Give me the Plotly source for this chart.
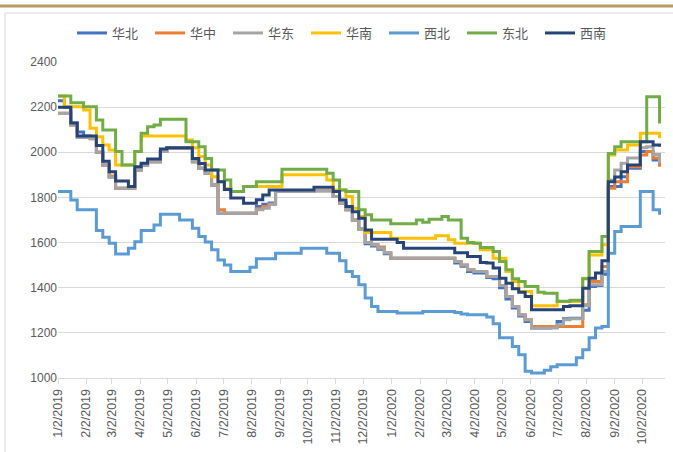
import pandas as pd
import plotly.graph_objects as go

# ---------------- data ----------------
dates = pd.date_range("2019-01-02", periods=95, freq="7D")

huabei = [2228, 2200, 2130, 2090, 2072, 2065, 2000, 1944, 1890, 1841,
          1841, 1841, 1922, 1944, 1958, 1958, 2003, 2018, 2018, 2018,
          2018, 1958, 1929, 1907, 1855, 1730, 1730, 1730, 1730, 1730,
          1730, 1760, 1770, 1775, 1826, 1826, 1826, 1826, 1826, 1826,
          1830, 1830, 1830, 1804, 1774, 1745, 1700, 1660, 1595, 1585,
          1570, 1550, 1531, 1531, 1531, 1531, 1531, 1531, 1531, 1531,
          1531, 1531, 1510, 1495, 1472, 1465, 1465, 1445, 1440, 1400,
          1350, 1310, 1275, 1250, 1221, 1221, 1221, 1225, 1250, 1262,
          1265, 1265, 1300, 1405, 1410, 1460, 1848, 1848, 1892, 1929,
          1929, 2003, 2003, 1966, 1950]

huazhong = [2173, 2173, 2120, 2065, 2065, 2060, 2000, 1944, 1895, 1841,
            1841, 1841, 1922, 1944, 1958, 1958, 2003, 2018, 2018, 2018,
            2018, 1958, 1929, 1907, 1855, 1745, 1730, 1730, 1730, 1730,
            1730, 1750, 1760, 1770, 1826, 1826, 1826, 1826, 1826, 1826,
            1830, 1830, 1830, 1804, 1774, 1745, 1700, 1660, 1600, 1590,
            1580, 1555, 1531, 1531, 1531, 1531, 1531, 1531, 1531, 1531,
            1531, 1531, 1516, 1501, 1480, 1472, 1472, 1450, 1450, 1410,
            1361, 1317, 1280, 1258, 1228, 1228, 1228, 1228, 1228, 1228,
            1228, 1228, 1325, 1427, 1427, 1494, 1841, 1870, 1870, 1936,
            1936, 1988, 2003, 1975, 1936]

huadong = [2173, 2173, 2120, 2065, 2065, 2060, 2000, 1944, 1890, 1841,
           1841, 1841, 1922, 1944, 1958, 1958, 2003, 2018, 2018, 2018,
           2018, 1958, 1929, 1907, 1855, 1730, 1730, 1730, 1730, 1730,
           1730, 1745, 1752, 1770, 1826, 1826, 1826, 1826, 1826, 1826,
           1830, 1830, 1830, 1804, 1774, 1745, 1700, 1660, 1600, 1590,
           1575, 1555, 1531, 1531, 1531, 1531, 1531, 1531, 1531, 1531,
           1531, 1531, 1516, 1501, 1480, 1472, 1472, 1450, 1450, 1410,
           1361, 1317, 1280, 1258, 1221, 1221, 1221, 1221, 1236, 1258,
           1262, 1262, 1320, 1413, 1413, 1472, 1877, 1922, 1951, 1975,
           1975, 2020, 2025, 1990, 1951]

huanan = [2249, 2202, 2202, 2202, 2187, 2106, 2069, 2032, 2010, 1944,
          1944, 1944, 2003, 2072, 2072, 2072, 2072, 2072, 2072, 2072,
          2054, 2020, 1981, 1944, 1892, 1870, 1840, 1826, 1826, 1848,
          1848, 1848, 1848, 1848, 1848, 1900, 1900, 1900, 1900, 1900,
          1900, 1900, 1877, 1833, 1833, 1804, 1752, 1715, 1645, 1645,
          1645, 1645, 1619, 1619, 1619, 1619, 1619, 1619, 1619, 1630,
          1630, 1612, 1597, 1597, 1597, 1597, 1568, 1568, 1531, 1531,
          1472, 1427, 1383, 1383, 1320, 1320, 1320, 1320, 1339, 1339,
          1339, 1339, 1442, 1545, 1545, 1590, 1988, 2010, 2010, 2032,
          2032, 2084, 2084, 2084, 2062]

xibei = [1826, 1826, 1789, 1745, 1745, 1745, 1653, 1624, 1597, 1549,
         1549, 1575, 1604, 1653, 1653, 1678, 1726, 1726, 1726, 1700,
         1700, 1664, 1627, 1602, 1568, 1523, 1501, 1472, 1472, 1472,
         1491, 1528, 1528, 1528, 1553, 1553, 1553, 1553, 1575, 1575,
         1575, 1575, 1553, 1553, 1520, 1472, 1450, 1413, 1354, 1317,
         1295, 1295, 1295, 1288, 1288, 1288, 1288, 1295, 1295, 1295,
         1295, 1295, 1290, 1283, 1280, 1280, 1280, 1270, 1240, 1178,
         1178, 1140, 1103, 1030, 1022, 1022, 1034, 1050, 1059, 1059,
         1059, 1090, 1125, 1178, 1221, 1228, 1553, 1649, 1671, 1671,
         1671, 1826, 1826, 1745, 1723]

dongbei = [2249, 2249, 2220, 2220, 2202, 2202, 2143, 2099, 2099, 2003,
           1944, 1944, 2003, 2084, 2113, 2121, 2146, 2146, 2146, 2146,
           2047, 2047, 2025, 1973, 1922, 1922, 1877, 1826, 1826, 1848,
           1848, 1870, 1870, 1870, 1870, 1925, 1925, 1925, 1925, 1925,
           1925, 1925, 1907, 1877, 1833, 1826, 1826, 1745, 1723, 1700,
           1700, 1700, 1683, 1683, 1683, 1683, 1700, 1690, 1703, 1703,
           1715, 1700, 1700, 1619, 1600, 1597, 1578, 1578, 1560, 1516,
           1480, 1440, 1427, 1405, 1405, 1380, 1376, 1376, 1340, 1340,
           1345, 1345, 1440, 1560, 1560, 1627, 1995, 2025, 2047, 2047,
           2047, 2047, 2246, 2246, 2128]

xinan = [2199, 2199, 2130, 2072, 2072, 2072, 2030, 1960, 1914, 1873,
         1873, 1848, 1936, 1951, 1970, 1970, 2015, 2020, 2020, 2020,
         2020, 1973, 1950, 1922, 1922, 1870, 1835, 1797, 1797, 1774,
         1774, 1790, 1811, 1833, 1833, 1833, 1833, 1833, 1833, 1833,
         1845, 1845, 1845, 1826, 1789, 1760, 1737, 1708, 1656, 1615,
         1615, 1615, 1615, 1600, 1575, 1575, 1575, 1575, 1575, 1575,
         1575, 1575, 1555, 1555, 1538, 1538, 1512, 1510, 1487, 1442,
         1420, 1395, 1380, 1361, 1302, 1302, 1302, 1302, 1302, 1317,
         1320, 1320, 1398, 1442, 1465, 1520, 1870, 1890, 1914, 1944,
         1944, 2047, 2047, 2032, 2025]

series_names = ["华北", "华中", "华东", "华南", "西北", "东北", "西南"]
series_values = [huabei, huazhong, huadong, huanan, xibei, dongbei, xinan]
series_colors = ["#4472C4", "#ED7D31", "#A5A5A5", "#FFC000",
                 "#5B9BD5", "#70AD47", "#264478"]

tick_dates = ["2019-01-02", "2019-02-02", "2019-03-02", "2019-04-02",
              "2019-05-02", "2019-06-02", "2019-07-02", "2019-08-02",
              "2019-09-02", "2019-10-02", "2019-11-02", "2019-12-02",
              "2020-01-02", "2020-02-02", "2020-03-02", "2020-04-02",
              "2020-05-02", "2020-06-02", "2020-07-02", "2020-08-02",
              "2020-09-02", "2020-10-02"]
tick_labels = ["1/2/2019", "2/2/2019", "3/2/2019", "4/2/2019",
               "5/2/2019", "6/2/2019", "7/2/2019", "8/2/2019",
               "9/2/2019", "10/2/2019", "11/2/2019", "12/2/2019",
               "1/2/2020", "2/2/2020", "3/2/2020", "4/2/2020",
               "5/2/2020", "6/2/2020", "7/2/2020", "8/2/2020",
               "9/2/2020", "10/2/2020"]

y_ticks = [1000, 1200, 1400, 1600, 1800, 2000, 2200, 2400]

# ---------------- layout constants ----------------
W, H = 673, 452
ML, MR, MT, MB = 58, 8, 62, 74
PW = W - ML - MR
PH = H - MT - MB


def px(x):
    return (x - ML) / PW


def py(y):
    return (H - MB - y) / PH


fig = go.Figure()
for name, vals, col in zip(series_names, series_values, series_colors):
    fig.add_trace(go.Scatter(
        x=dates, y=vals, name=name, mode="lines",
        line=dict(color=col, width=3, shape="hv"),
    ))

fig.update_layout(
    width=W, height=H,
    margin=dict(l=ML, r=MR, t=MT, b=MB, autoexpand=False),
    paper_bgcolor="white", plot_bgcolor="white",
    font=dict(family="Liberation Sans, Arial, sans-serif", color="#595959", size=12),
    showlegend=True,
    legend=dict(orientation="h", x=px(345), xanchor="center",
                y=py(33), yanchor="middle",
                font=dict(size=13, color="#595959",
                          family="Noto Sans CJK SC, sans-serif"),
                itemwidth=30, entrywidth=33, entrywidthmode="pixels",
                tracegroupgap=0,
                bgcolor="rgba(0,0,0,0)"),
    xaxis=dict(
        type="date",
        range=["2019-01-02", "2020-10-27"],
        tickmode="array", tickvals=tick_dates, ticktext=tick_labels,
        tickangle=-90, tickfont=dict(size=12.5, color="#595959"),
        showgrid=False, showline=True, linecolor="#D9D9D9", linewidth=1,
        ticks="outside", ticklen=5, tickcolor="#D9D9D9",
        zeroline=False, fixedrange=True,
    ),
    yaxis=dict(
        range=[1000, 2400],
        tickmode="array", tickvals=y_ticks,
        tickfont=dict(size=12, color="#595959"),
        showgrid=True, gridcolor="#D9D9D9", gridwidth=1,
        showline=False, ticks="", zeroline=False, fixedrange=True,
    ),
    shapes=[
        dict(type="rect", xref="paper", yref="paper",
             x0=px(5), x1=px(W + 10), y0=py(H + 10), y1=py(13),
             line=dict(color="#D9D9D9", width=1), fillcolor="rgba(0,0,0,0)",
             layer="below"),
        dict(type="line", xref="paper", yref="paper",
             x0=px(-5), x1=px(W + 5), y0=py(6), y1=py(6),
             line=dict(color="#B59A62", width=3)),
    ],
)

fig.write_html(
    "out.html",
    config={"displayModeBar": False},
    post_script="document.body.style.margin='0';document.body.style.overflow='hidden';",
)
